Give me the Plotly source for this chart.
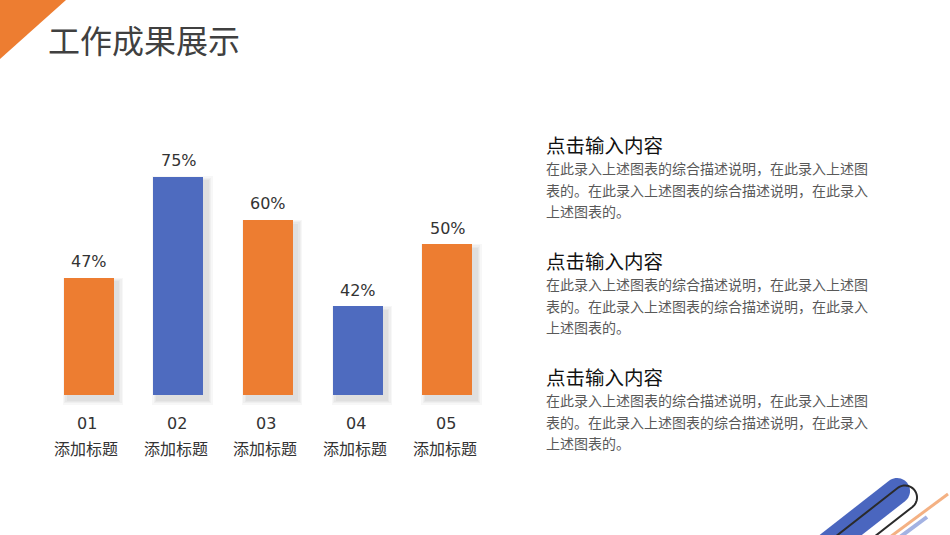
import numpy as np
import plotly.graph_objects as go

# ---------------- data ----------------
categories = ["01", "02", "03", "04", "05"]
category_names = ["添加标题", "添加标题", "添加标题", "添加标题", "添加标题"]
bar_heights = [40.2, 75, 60.1, 30.4, 51.7]          # drawn bar heights
bar_labels = ["47%", "75%", "60%", "42%", "50%"]     # label text shown above bars
bar_colors = ["#ED7D31", "#4E6BBF", "#ED7D31", "#4E6BBF", "#ED7D31"]

title_text = "工作成果展示"
block_heading = "点击输入内容"
block_lines = ["在此录入上述图表的综合描述说明，在此录入上述图",
               "表的。在此录入上述图表的综合描述说明，在此录入",
               "上述图表的。"]

W, H = 950, 535
LATIN = "DejaVu Sans, Noto Sans CJK SC"
CJK = "Noto Sans CJK SC, DejaVu Sans"

fig = go.Figure()

# geometry (pixels)
px_x_left, px_x_right = 44.2, 492.5
px_base, unit_px = 394.5, 2.907
y_lo, y_hi = -5, 80
px_y_bottom = px_base - y_lo * unit_px
px_y_top = px_base - y_hi * unit_px
cat_px = (px_x_right - px_x_left) / len(categories)
bw_px = 50
xs = list(range(len(categories)))

# soft shadows (offset down-right)
for i in range(1, 5):
    e = i * 1.3
    dx, dy = 4, 5
    fig.add_trace(go.Bar(
        x=xs, y=[v + 2 * e / unit_px for v in bar_heights],
        base=-(dy + e) / unit_px,
        width=(bw_px + 2 * e) / cat_px,
        offset=(-bw_px / 2 - e + dx) / cat_px,
        marker=dict(color="rgba(0,0,0,0.032)", line=dict(width=0)),
        hoverinfo="skip", showlegend=False,
    ))

fig.add_trace(go.Bar(
    x=xs, y=bar_heights, width=bw_px / cat_px,
    marker=dict(color=bar_colors, line=dict(width=0)),
    hoverinfo="skip", showlegend=False,
))

# invisible trace for pixel-space overlay axes
fig.add_trace(go.Scatter(x=[None], y=[None], xaxis="x2", yaxis="y2",
                         mode="markers", showlegend=False, hoverinfo="skip"))

ann = []
for x, v, lab in zip(xs, bar_heights, bar_labels):
    ann.append(dict(x=x, y=v, xref="x", yref="y", text=lab, showarrow=False,
                    yanchor="middle", yshift=16,
                    font=dict(family=LATIN, size=16, color="#333333")))
for x, c, n in zip(xs, categories, category_names):
    ann.append(dict(x=x, y=0, xref="x", yref="y", text=c, showarrow=False,
                    yanchor="middle", yshift=-(423.3 - px_base), xshift=-2,
                    font=dict(family=LATIN, size=16, color="#333333")))
    ann.append(dict(x=x, y=0, xref="x", yref="y", text=n, showarrow=False,
                    yanchor="middle", yshift=-(448.3 - px_base), xshift=-3,
                    font=dict(family=CJK, size=16, color="#333333")))

# title
ann.append(dict(x=46, y=39, xref="x2", yref="y2", text=title_text, showarrow=False,
                xanchor="left", yanchor="middle",
                font=dict(family=CJK, size=32, color="#404040")))
# right text blocks
for k in range(3):
    y0 = 144.5 + 116 * k
    ann.append(dict(x=544, y=y0, xref="x2", yref="y2", text=block_heading, showarrow=False,
                    xanchor="left", yanchor="middle",
                    font=dict(family=CJK, size=19.5, color="#111111")))
    for j, line in enumerate(block_lines):
        ann.append(dict(x=544, y=y0 + 23.5 + 21.5 * j, xref="x2", yref="y2", text=line,
                        showarrow=False, xanchor="left", yanchor="middle",
                        font=dict(family=CJK, size=14, color="#595959")))

# decorations
shapes = []
shapes.append(dict(type="path", xref="x2", yref="y2", path="M 0,0 L 66,0 L 0,59 Z",
                   fillcolor="#ED7D31", line=dict(width=0)))

u = np.array([0.788, -0.616])
n = np.array([0.616, 0.788])


def arc_pts(c, r, a0, a1, num=24):
    t = np.linspace(a0, a1, num)
    return [c + r * (np.cos(a) * n + np.sin(a) * u) for a in t]


def path_from(points, close=False):
    s = "M " + " L ".join(f"{p[0]:.2f},{p[1]:.2f}" for p in points)
    return s + (" Z" if close else "")


# blue thick stroke with rounded end
cb, rb = np.array([897.0, 491.0]), 13.0
pts = [cb + rb * n - 140 * u] + arc_pts(cb, rb, 0, np.pi) + [cb - rb * n - 140 * u]
shapes.append(dict(type="path", xref="x2", yref="y2", path=path_from(pts, True),
                   fillcolor="#4A66BF", line=dict(width=0)))
# dark paper-clip outline
ck, rk = np.array([905.0, 497.5]), 12.0
pts = [ck - rk * n - 120 * u] + arc_pts(ck, rk, np.pi, 0) + [ck + rk * n - 120 * u]
shapes.append(dict(type="path", xref="x2", yref="y2", path=path_from(pts),
                   line=dict(color="#2b2b2b", width=2)))
# orange thin line
shapes.append(dict(type="line", xref="x2", yref="y2", x0=886, y0=540, x1=948, y1=494,
                   line=dict(color="#F4B183", width=3)))
# light blue short line
shapes.append(dict(type="line", xref="x2", yref="y2", x0=900, y0=537, x1=927, y1=517,
                   line=dict(color="#A3B2E2", width=4)))

fig.update_layout(
    width=W, height=H, margin=dict(l=0, r=0, t=0, b=0),
    paper_bgcolor="white", plot_bgcolor="rgba(0,0,0,0)",
    barmode="overlay", bargap=0,
    xaxis=dict(domain=[px_x_left / W, px_x_right / W], range=[-0.5, len(categories) - 0.5],
               visible=False, fixedrange=True),
    yaxis=dict(domain=[(H - px_y_bottom) / H, (H - px_y_top) / H], range=[y_lo, y_hi],
               visible=False, fixedrange=True),
    xaxis2=dict(domain=[0, 1], range=[0, W], anchor="y2", visible=False, fixedrange=True),
    yaxis2=dict(domain=[0, 1], range=[H, 0], anchor="x2", visible=False, fixedrange=True),
    annotations=ann, shapes=shapes, showlegend=False,
)

fig.write_html("out.html", config={"displayModeBar": False},
               post_script="document.body.style.margin='0';document.body.style.padding='0';")
